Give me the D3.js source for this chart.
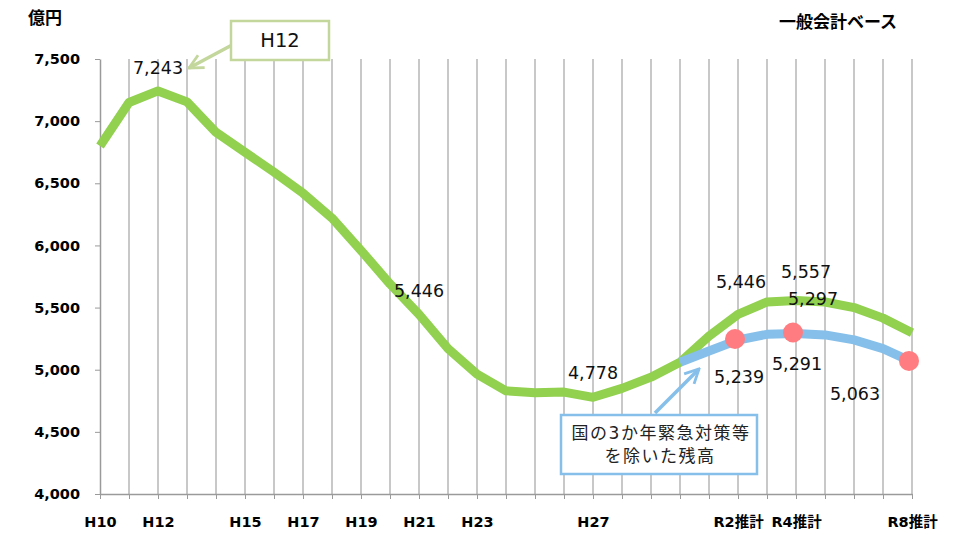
<!DOCTYPE html>
<html>
<head>
<meta charset="utf-8">
<script src="https://cdn.jsdelivr.net/npm/d3@7"></script>
<style>
  body { margin: 0; background: #fff; }
  svg text { font-family: "DejaVu Sans", "Noto Sans CJK JP", sans-serif; }
</style>
</head>
<body>
<svg id="chart" width="955" height="535"></svg>
<script>
const years = ["H10","H11","H12","H13","H14","H15","H16","H17","H18","H19","H20",
  "H21","H22","H23","H24","H25","H26","H27","H28","H29","H30",
  "R1","R2","R3","R4","R5","R6","R7","R8"];
const tickLabels = ["H10","","H12","","","H15","","H17","","H19","",
  "H21","","H23","","","","H27","","","",
  "","R2推計","","R4推計","","","","R8推計"];
const total = [6800, 7150, 7243, 7155, 6910, 6750, 6590, 6420, 6220, 5960, 5690,
  5446, 5170, 4965, 4830, 4815, 4820, 4778, 4850, 4940, 5060,
  5270, 5446, 5545, 5557, 5545, 5500, 5415, 5297];
// excluding the national 3-year emergency measures (H30 onward)
const exYears = ["H30","R1","R2","R3","R4","R5","R6","R7","R8"];
const excl = [5060, 5150, 5239, 5285, 5291, 5280, 5240, 5170, 5063];
const dotYears = ["R2","R4","R8"];
const yTicks = [4000, 4500, 5000, 5500, 6000, 6500, 7000, 7500];
// value labels: [series, year, text, dx, dy]
const valueLabels = [
  ["total", "H12", "7,243", 0, -22],
  ["total", "H21", "5,446", 0, -22],
  ["total", "H27", "4,778", 0, -23],
  ["total", "R2", "5,446", 3, -31],
  ["total", "R4", "5,557", 10, -27],
  ["total", "R4", "5,297", 17, 0],
  ["excl", "R2", "5,239", 1, 38],
  ["excl", "R4", "5,291", 1, 31],
  ["excl", "R6", "5,063", 1, 55]
];

const svg = d3.select("#chart");
const plotLeft = 100, plotRight = 912, plotTop = 59, plotBottom = 494;
const fontFamily = '"DejaVu Sans", "Noto Sans CJK JP", sans-serif';

const x = d3.scalePoint().domain(years).range([plotLeft, plotRight]);
const y = d3.scaleLinear().domain([4000, 7500]).range([plotBottom, plotTop]);

// vertical grid
svg.append("g").selectAll("line")
  .data(years.slice(1))
  .join("line")
  .attr("x1", d => x(d)).attr("x2", d => x(d))
  .attr("y1", plotTop).attr("y2", plotBottom)
  .attr("stroke", "#c8c8c8")
  .attr("stroke-width", 2);

// x axis
const xAxis = svg.append("g")
  .attr("transform", `translate(0,${plotBottom})`)
  .call(d3.axisBottom(x).tickSize(5).tickSizeOuter(0)
    .tickFormat((d, i) => tickLabels[i]))
  .attr("font-family", fontFamily);
xAxis.select(".domain").attr("stroke", "#9a9a9a").attr("stroke-width", 1.5);
xAxis.selectAll(".tick line").attr("stroke", "#9a9a9a");
xAxis.selectAll("text")
  .attr("y", 23)
  .attr("font-size", 14.5)
  .attr("font-weight", "bold")
  .attr("fill", "#000");

// y axis
const yAxis = svg.append("g")
  .attr("transform", `translate(${plotLeft},0)`)
  .call(d3.axisLeft(y).tickValues(yTicks).tickSize(5).tickSizeOuter(0)
    .tickFormat(d3.format(",")))
  .attr("font-family", fontFamily);
yAxis.select(".domain").attr("stroke", "#9a9a9a").attr("stroke-width", 1.5);
yAxis.selectAll(".tick line").attr("stroke", "#9a9a9a");
yAxis.selectAll("text")
  .attr("x", -20)
  .attr("font-size", 14.5)
  .attr("font-weight", "bold")
  .attr("fill", "#000");

svg.append("text")
  .attr("x", 45).attr("y", 24)
  .attr("text-anchor", "middle")
  .attr("font-size", 17).attr("font-weight", "bold")
  .text("億円");
svg.append("text")
  .attr("x", 838).attr("y", 28)
  .attr("text-anchor", "middle")
  .attr("font-size", 17).attr("font-weight", "bold")
  .text("一般会計ベース");

const line = d3.line().curve(d3.curveLinear);

svg.append("path")
  .attr("d", line(years.map((d, i) => [x(d), y(total[i])])))
  .attr("fill", "none")
  .attr("stroke", "#92d050")
  .attr("stroke-width", 9)
  .attr("stroke-linejoin", "round");

svg.append("path")
  .attr("d", line(exYears.map((d, i) => [x(d), y(excl[i])])))
  .attr("fill", "none")
  .attr("stroke", "#86bfe9")
  .attr("stroke-width", 9)
  .attr("stroke-linejoin", "round");

svg.append("g").selectAll("circle")
  .data(dotYears)
  .join("circle")
  .attr("cx", d => x(d) - 3)
  .attr("cy", d => y(excl[exYears.indexOf(d)]) - 1)
  .attr("r", 10)
  .attr("fill", "#ff7c80");

// value labels
function seriesValue(series, yr) {
  return series === "total" ? total[years.indexOf(yr)] : excl[exYears.indexOf(yr)];
}
svg.append("g").selectAll("text")
  .data(valueLabels)
  .join("text")
  .attr("x", d => x(d[1]) + d[3])
  .attr("y", d => y(seriesValue(d[0], d[1])) + d[4])
  .attr("text-anchor", "middle")
  .attr("dominant-baseline", "middle")
  .attr("font-size", 17.5)
  .attr("fill", "#111")
  .text(d => d[2]);

// callouts
const defs = svg.append("defs");
function arrowMarker(id, color) {
  defs.append("marker")
    .attr("id", id)
    .attr("viewBox", "0 0 10 10")
    .attr("refX", 9).attr("refY", 5)
    .attr("markerWidth", 5).attr("markerHeight", 5)
    .attr("orient", "auto")
    .append("path")
    .attr("d", "M1,1 L9,5 L1,9")
    .attr("fill", "none")
    .attr("stroke", color)
    .attr("stroke-width", 1.6);
}
arrowMarker("arrG", "#c3d69b");
arrowMarker("arrB", "#86bfe9");

svg.append("line")
  .attr("x1", 232).attr("y1", 45).attr("x2", 189).attr("y2", 68)
  .attr("stroke", "#c3d69b").attr("stroke-width", 3.5)
  .attr("marker-end", "url(#arrG)");
svg.append("rect")
  .attr("x", 231).attr("y", 21).attr("width", 98).attr("height", 39)
  .attr("fill", "#fff").attr("stroke", "#c3d69b").attr("stroke-width", 2.5);
svg.append("text")
  .attr("x", 280).attr("y", 41)
  .attr("text-anchor", "middle").attr("dominant-baseline", "middle")
  .attr("font-size", 19.5).attr("fill", "#111")
  .text("H12");

svg.append("line")
  .attr("x1", 655).attr("y1", 413).attr("x2", 699).attr("y2", 369)
  .attr("stroke", "#86bfe9").attr("stroke-width", 3.5)
  .attr("marker-end", "url(#arrB)");
svg.append("rect")
  .attr("x", 561).attr("y", 415).attr("width", 196).attr("height", 59)
  .attr("fill", "#fff").attr("stroke", "#86bfe9").attr("stroke-width", 2.5);
svg.append("text")
  .attr("x", 661).attr("y", 434)
  .attr("text-anchor", "middle").attr("dominant-baseline", "middle")
  .attr("font-size", 17).attr("letter-spacing", 1.5).attr("fill", "#222")
  .text("国の3か年緊急対策等");
svg.append("text")
  .attr("x", 660).attr("y", 457)
  .attr("text-anchor", "middle").attr("dominant-baseline", "middle")
  .attr("font-size", 17).attr("letter-spacing", 1.5).attr("fill", "#222")
  .text("を除いた残高");
</script>
</body>
</html>
